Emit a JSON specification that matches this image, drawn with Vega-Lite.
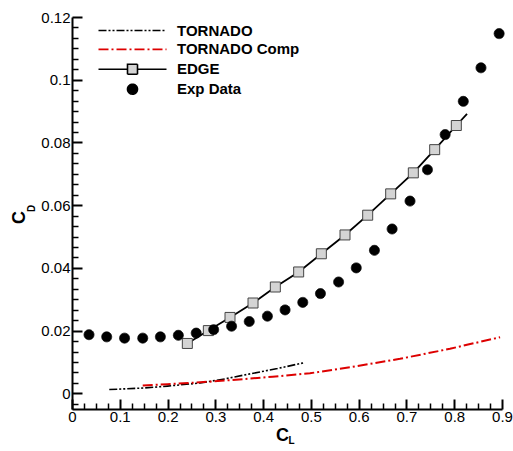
{
  "$schema": "https://vega.github.io/schema/vega-lite/v6.json",
  "width": 430,
  "height": 392,
  "autosize": {"type": "none"},
  "padding": {"left": 72, "top": 17, "right": 11, "bottom": 42},
  "background": "white",
  "config": {"view": {"stroke": null}},
  "data": {
    "values": [
      {"series": "TORNADO", "cl": 0.078, "cd": 0.0012},
      {"series": "TORNADO", "cl": 0.15, "cd": 0.0017},
      {"series": "TORNADO", "cl": 0.2, "cd": 0.0023},
      {"series": "TORNADO", "cl": 0.268, "cd": 0.0033},
      {"series": "TORNADO", "cl": 0.32, "cd": 0.0046},
      {"series": "TORNADO", "cl": 0.3725, "cd": 0.0062},
      {"series": "TORNADO", "cl": 0.43, "cd": 0.0079},
      {"series": "TORNADO", "cl": 0.484, "cd": 0.0097},
      {"series": "TORNADO Comp", "cl": 0.148, "cd": 0.0025},
      {"series": "TORNADO Comp", "cl": 0.2, "cd": 0.0029},
      {"series": "TORNADO Comp", "cl": 0.268, "cd": 0.0035},
      {"series": "TORNADO Comp", "cl": 0.35, "cd": 0.0044},
      {"series": "TORNADO Comp", "cl": 0.42, "cd": 0.0053},
      {"series": "TORNADO Comp", "cl": 0.498, "cd": 0.0064},
      {"series": "TORNADO Comp", "cl": 0.582, "cd": 0.0083},
      {"series": "TORNADO Comp", "cl": 0.6865, "cd": 0.011},
      {"series": "TORNADO Comp", "cl": 0.791, "cd": 0.0142},
      {"series": "TORNADO Comp", "cl": 0.896, "cd": 0.0179},
      {"series": "EDGE", "cl": 0.2414, "cd": 0.0159},
      {"series": "EDGE", "cl": 0.2854, "cd": 0.02},
      {"series": "EDGE", "cl": 0.3307, "cd": 0.0242},
      {"series": "EDGE", "cl": 0.3789, "cd": 0.0288},
      {"series": "EDGE", "cl": 0.4256, "cd": 0.0339},
      {"series": "EDGE", "cl": 0.4744, "cd": 0.0387},
      {"series": "EDGE", "cl": 0.5219, "cd": 0.0445},
      {"series": "EDGE", "cl": 0.5714, "cd": 0.0505},
      {"series": "EDGE", "cl": 0.6189, "cd": 0.0568},
      {"series": "EDGE", "cl": 0.667, "cd": 0.0636},
      {"series": "EDGE", "cl": 0.7144, "cd": 0.0703},
      {"series": "EDGE", "cl": 0.7591, "cd": 0.0777},
      {"series": "EDGE", "cl": 0.8044, "cd": 0.0854},
      {"series": "EDGE", "cl": 0.8268, "cd": 0.0891},
      {"series": "Exp Data", "cl": 0.0356, "cd": 0.0187},
      {"series": "Exp Data", "cl": 0.0726, "cd": 0.018},
      {"series": "Exp Data", "cl": 0.11, "cd": 0.0176},
      {"series": "Exp Data", "cl": 0.148, "cd": 0.0176},
      {"series": "Exp Data", "cl": 0.185, "cd": 0.018},
      {"series": "Exp Data", "cl": 0.2226, "cd": 0.0185},
      {"series": "Exp Data", "cl": 0.26, "cd": 0.0192},
      {"series": "Exp Data", "cl": 0.2965, "cd": 0.0203},
      {"series": "Exp Data", "cl": 0.334, "cd": 0.0214},
      {"series": "Exp Data", "cl": 0.371, "cd": 0.0229},
      {"series": "Exp Data", "cl": 0.409, "cd": 0.0246},
      {"series": "Exp Data", "cl": 0.446, "cd": 0.0266},
      {"series": "Exp Data", "cl": 0.483, "cd": 0.029},
      {"series": "Exp Data", "cl": 0.52, "cd": 0.0318},
      {"series": "Exp Data", "cl": 0.558, "cd": 0.0355},
      {"series": "Exp Data", "cl": 0.595, "cd": 0.04},
      {"series": "Exp Data", "cl": 0.633, "cd": 0.0456},
      {"series": "Exp Data", "cl": 0.67, "cd": 0.0524},
      {"series": "Exp Data", "cl": 0.7075, "cd": 0.0613},
      {"series": "Exp Data", "cl": 0.744, "cd": 0.0713},
      {"series": "Exp Data", "cl": 0.781, "cd": 0.0825},
      {"series": "Exp Data", "cl": 0.819, "cd": 0.0931},
      {"series": "Exp Data", "cl": 0.856, "cd": 0.1038},
      {"series": "Exp Data", "cl": 0.894, "cd": 0.1147}
    ]
  },
  "resolve": {"axis": {"x": "independent", "y": "independent"}},
  "layer": [
    {
      "transform": [{"filter": "datum.series === 'TORNADO'"}],
      "mark": {"type": "line", "strokeWidth": 1.6, "stroke": "black", "strokeDash": [8, 2, 2, 2, 2, 2], "clip": true},
      "encoding": {
        "x": {
          "field": "cl", "type": "quantitative",
          "scale": {"domain": [0, 0.9], "nice": false, "zero": false},
          "axis": {
            "orient": "bottom",
            "values": [0, 0.025, 0.05, 0.075, 0.1, 0.125, 0.15, 0.175, 0.2, 0.225, 0.25, 0.275, 0.3, 0.325, 0.35, 0.375, 0.4, 0.425, 0.45, 0.475, 0.5, 0.525, 0.55, 0.575, 0.6, 0.625, 0.65, 0.675, 0.7, 0.725, 0.75, 0.775, 0.8, 0.825, 0.85, 0.875, 0.9],
            "labelExpr": "abs(datum.value*10 - round(datum.value*10)) < 1e-6 ? format(datum.value, '~g') : ''",
            "grid": false,
            "domainColor": "black", "domainWidth": 2,
            "tickColor": "black",
            "tickSize": {"condition": {"test": "abs(datum.value*10 - round(datum.value*10)) < 1e-6", "value": -10}, "value": -6},
            "tickWidth": {"condition": {"test": "abs(datum.value*10 - round(datum.value*10)) < 1e-6", "value": 2}, "value": 1.5},
            "labelFont": "Liberation Sans", "labelFontSize": 15, "labelColor": "black",
            "labelPadding": 10, "labelFlush": false, "labelOverlap": false,
            "title": "C", "titleFont": "Liberation Sans", "titleFontSize": 18, "titleFontWeight": "bold", "titleColor": "black",
            "titleX": 210, "titleY": 26.5, "titleAlign": "center", "titleBaseline": "middle"
          }
        },
        "y": {
          "field": "cd", "type": "quantitative",
          "scale": {"domain": [-0.005, 0.12], "nice": false, "zero": false},
          "axis": {
            "orient": "left",
            "values": [-0.00333, 0, 0.00333, 0.00667, 0.01, 0.01333, 0.01667, 0.02, 0.02333, 0.02667, 0.03, 0.03333, 0.03667, 0.04, 0.04333, 0.04667, 0.05, 0.05333, 0.05667, 0.06, 0.06333, 0.06667, 0.07, 0.07333, 0.07667, 0.08, 0.08333, 0.08667, 0.09, 0.09333, 0.09667, 0.1, 0.10333, 0.10667, 0.11, 0.11333, 0.11667, 0.12],
            "labelExpr": "abs(datum.value*50 - round(datum.value*50)) < 1e-3 ? format(datum.value, '~g') : ''",
            "grid": false,
            "domainColor": "black", "domainWidth": 2,
            "tickColor": "black",
            "tickSize": {"condition": {"test": "abs(datum.value*50 - round(datum.value*50)) < 1e-3", "value": -10}, "value": -6},
            "tickWidth": {"condition": {"test": "abs(datum.value*50 - round(datum.value*50)) < 1e-3", "value": 2}, "value": 1.5},
            "labelFont": "Liberation Sans", "labelFontSize": 15, "labelColor": "black",
            "labelPadding": 12, "labelFlush": false, "labelOverlap": false,
            "title": "C", "titleFont": "Liberation Sans", "titleFontSize": 18, "titleFontWeight": "bold", "titleColor": "black",
            "titleX": -53, "titleY": 200, "titleAlign": "center", "titleBaseline": "middle", "titleAngle": -90
          }
        }
      }
    },
    {
      "transform": [{"filter": "datum.series === 'TORNADO Comp'"}],
      "mark": {"type": "line", "strokeWidth": 2, "stroke": "#dd0000", "strokeDash": [10, 3, 2, 3], "clip": true},
      "encoding": {
        "x": {
          "field": "cl", "type": "quantitative",
          "axis": {
            "orient": "bottom", "domain": false, "ticks": false, "labels": false, "grid": false,
            "title": "L", "titleFont": "Liberation Sans", "titleFontSize": 10, "titleFontWeight": "bold", "titleColor": "black",
            "titleX": 219, "titleY": 31, "titleAlign": "center", "titleBaseline": "middle"
          }
        },
        "y": {
          "field": "cd", "type": "quantitative",
          "axis": {
            "orient": "left", "domain": false, "ticks": false, "labels": false, "grid": false,
            "title": "D", "titleFont": "Liberation Sans", "titleFontSize": 10, "titleFontWeight": "bold", "titleColor": "black",
            "titleX": -41, "titleY": 191, "titleAlign": "center", "titleBaseline": "middle", "titleAngle": -90
          }
        }
      }
    },
    {
      "transform": [{"filter": "datum.series === 'EDGE'"}],
      "mark": {"type": "line", "strokeWidth": 1.8, "stroke": "black", "clip": true},
      "encoding": {
        "x": {"field": "cl", "type": "quantitative", "axis": null},
        "y": {"field": "cd", "type": "quantitative", "axis": null}
      }
    },
    {
      "transform": [{"filter": "datum.series === 'EDGE' && datum.cl < 0.82"}],
      "mark": {"type": "point", "shape": "square", "size": 100, "filled": true, "fill": "#d4d4d4", "stroke": "#444444", "strokeWidth": 1, "opacity": 1},
      "encoding": {
        "x": {"field": "cl", "type": "quantitative", "axis": null},
        "y": {"field": "cd", "type": "quantitative", "axis": null}
      }
    },
    {
      "transform": [{"filter": "datum.series === 'Exp Data'"}],
      "mark": {"type": "point", "size": 100, "filled": true, "strokeWidth": 0.8, "opacity": 1},
      "encoding": {
        "x": {"field": "cl", "type": "quantitative", "axis": null},
        "y": {"field": "cd", "type": "quantitative", "axis": null},
        "fill": {
          "field": "series", "type": "nominal",
          "scale": {"domain": ["TORNADO", "TORNADO Comp", "EDGE", "Exp Data"], "range": ["transparent", "transparent", "#d4d4d4", "black"]},
          "legend": {
            "orient": "none", "legendX": 53, "legendY": 6, "title": null, "padding": 0,
            "labelFont": "Liberation Sans", "labelFontSize": 15, "labelFontWeight": "bold", "labelColor": "black",
            "labelOffset": 37, "rowPadding": 2.9, "symbolSize": 100, "symbolStrokeWidth": 1.6,
            "encode": {"symbols": {"update": {"strokeWidth": {"signal": "datum.value === 'Exp Data' ? 1 : 1.6"}, "size": {"value": 100}, "opacity": {"value": 1}}}}
          }
        },
        "stroke": {
          "field": "series", "type": "nominal",
          "scale": {"domain": ["TORNADO", "TORNADO Comp", "EDGE", "Exp Data"], "range": ["black", "#dd0000", "black", "black"]},
          "legend": {
            "orient": "none", "legendX": 53, "legendY": 6, "title": null, "padding": 0,
            "labelFont": "Liberation Sans", "labelFontSize": 15, "labelFontWeight": "bold", "labelColor": "black",
            "labelOffset": 37, "rowPadding": 2.9, "symbolSize": 100, "symbolStrokeWidth": 1.6,
            "encode": {"symbols": {"update": {"strokeWidth": {"signal": "datum.value === 'Exp Data' ? 1 : 1.6"}, "size": {"value": 100}, "opacity": {"value": 1}}}}
          }
        },
        "strokeDash": {
          "field": "series", "type": "nominal",
          "scale": {"domain": ["TORNADO", "TORNADO Comp", "EDGE", "Exp Data"], "range": [[8, 2, 2, 2, 2, 2], [10, 3, 2, 3], [1, 0], [1, 0]]},
          "legend": {
            "orient": "none", "legendX": 53, "legendY": 6, "title": null, "padding": 0,
            "labelFont": "Liberation Sans", "labelFontSize": 15, "labelFontWeight": "bold", "labelColor": "black",
            "labelOffset": 37, "rowPadding": 2.9, "symbolSize": 100, "symbolStrokeWidth": 1.6,
            "encode": {"symbols": {"update": {"strokeWidth": {"signal": "datum.value === 'Exp Data' ? 1 : 1.6"}, "size": {"value": 100}, "opacity": {"value": 1}}}}
          }
        },
        "shape": {
          "field": "series", "type": "nominal",
          "scale": {"domain": ["TORNADO", "TORNADO Comp", "EDGE", "Exp Data"], "range": ["M-6.8,0H6.8", "M-6.8,0H6.8", "M-6.8,0H-1M1,0H6.8M-1,-1H1V1H-1Z", "circle"]},
          "legend": {
            "orient": "none", "legendX": 53, "legendY": 6, "title": null, "padding": 0,
            "labelFont": "Liberation Sans", "labelFontSize": 15, "labelFontWeight": "bold", "labelColor": "black",
            "labelOffset": 37, "rowPadding": 2.9, "symbolSize": 100, "symbolStrokeWidth": 1.6,
            "encode": {"symbols": {"update": {"strokeWidth": {"signal": "datum.value === 'Exp Data' ? 1 : 1.6"}, "size": {"value": 100}, "opacity": {"value": 1}}}}
          }
        }
      }
    }
  ]
}
